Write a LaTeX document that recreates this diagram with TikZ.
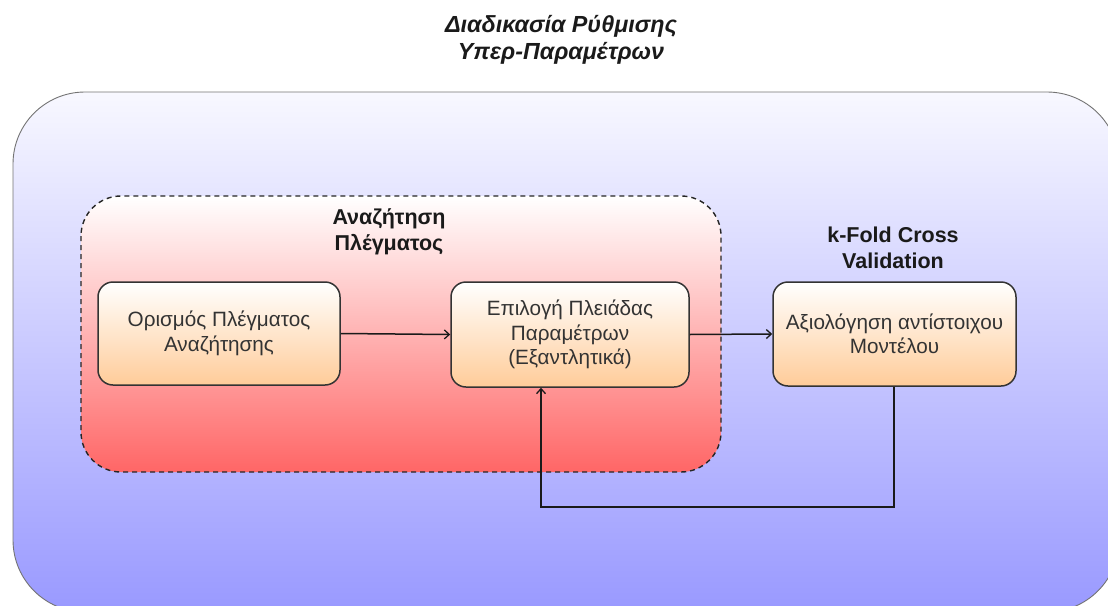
\documentclass[tikz,border=0pt]{standalone}
\usepackage{fontspec}
\setmainfont{Liberation Sans}
\usetikzlibrary{arrows.meta,calc}
\definecolor{outerbot}{HTML}{9999FF}
\definecolor{outertop}{HTML}{F8F8FF}
\definecolor{redbot}{HTML}{FF6666}
\definecolor{nodebot}{HTML}{FFCC99}
\definecolor{txt}{HTML}{333333}
\definecolor{lbl}{HTML}{1A1A1A}
\tikzset{
  procbox/.style={draw=txt, line width=1.5pt, rounded corners=15pt, top color=white, bottom color=nodebot, text=txt, align=center, font=\fontsize{20.7}{24.5}\selectfont, inner sep=0pt},
  lbltext/.style={text=lbl, align=center, font=\bfseries\fontsize{21.5}{26}\selectfont},
  conn/.style={draw=lbl, line width=1.5pt, -{Straight Barb[length=5pt,width=9pt,line width=1.3pt]}},
}
\begin{document}
\begin{tikzpicture}[x=1pt,y=-1pt]
\useasboundingbox (0,0) rectangle (1108,605);
\begin{scope}
\clip (0,0) rectangle (1108,605);
\path[draw=black!55, line width=0.9pt, rounded corners=72pt, top color=outertop, bottom color=outerbot] (13,92) rectangle (1119,612);
\end{scope}
\node[text=lbl, align=center, font=\bfseries\itshape\fontsize{23.3}{27}\selectfont] (title) at (561,40) {Διαδικασία Ρύθμισης\\Υπερ-Παραμέτρων};
\path[draw=black!85, dashed, dash pattern=on 5pt off 4pt, line width=1.4pt, rounded corners=40pt, top color=white, bottom color=redbot] (81,196) rectangle (721,472);
\node[lbltext] (grid) at (389,232) {Αναζήτηση\\Πλέγματος};
\node[lbltext] (kfold) at (893,248) {k-Fold Cross\\Validation};
\node[procbox, minimum width=242pt, minimum height=103pt] (n1) at (219,333.5) {Ορισμός Πλέγματος\\Αναζήτησης};
\node[procbox, minimum width=238pt, minimum height=105pt] (n2) at (570,334.5) {Επιλογή Πλειάδας\\Παραμέτρων\\(Εξαντλητικά)};
\node[procbox, minimum width=243pt, minimum height=104pt] (n3) at (894.5,334) {Αξιολόγηση αντίστοιχου\\Μοντέλου};
\coordinate (c1) at (894,507);
\coordinate (c2) at (541,507);
\draw[conn] (n1.east) -- (n2.west);
\draw[conn] (n2.east) -- (n3.west);
\draw[conn] (n3.south -| c1) -- (c1) -- (c2) -- (c2 |- n2.south);
\end{tikzpicture}
\end{document}
